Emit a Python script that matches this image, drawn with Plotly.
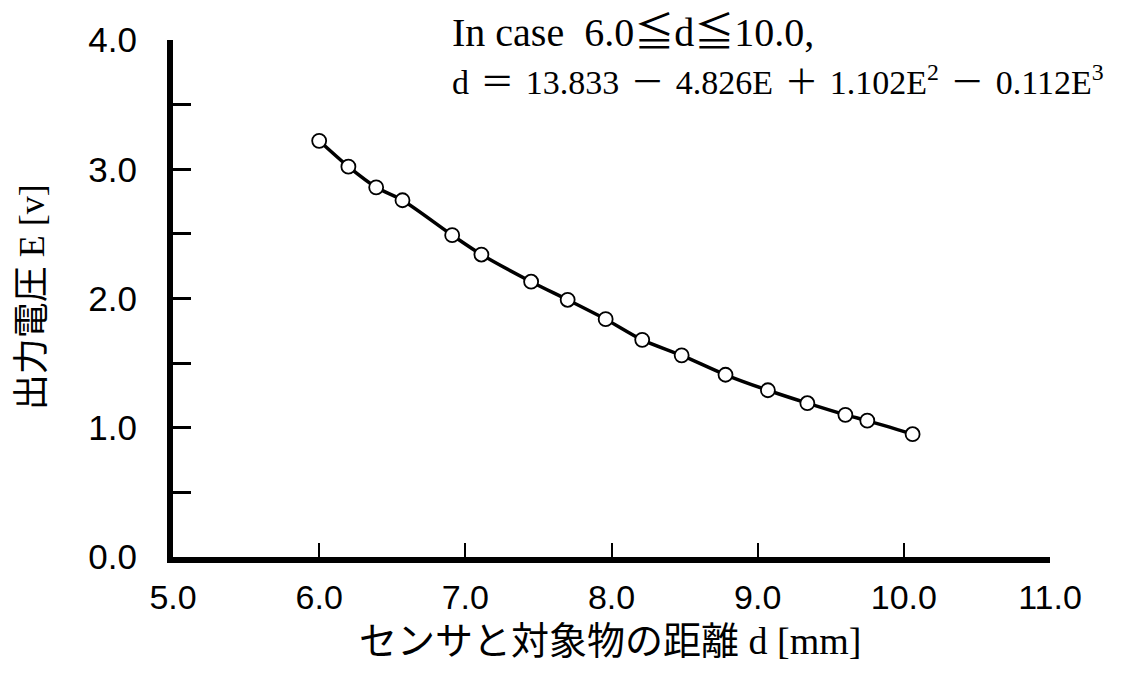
import plotly.graph_objects as go

# Data
distance_mm = [6.00, 6.20, 6.39, 6.57, 6.91, 7.11, 7.45, 7.70, 7.96, 8.21,
               8.48, 8.78, 9.07, 9.34, 9.60, 9.75, 10.06]
voltage_v = [3.22, 3.02, 2.86, 2.76, 2.49, 2.34, 2.13, 1.99, 1.84, 1.68,
             1.56, 1.41, 1.29, 1.19, 1.10, 1.055, 0.95]

x_ticks = [5, 6, 7, 8, 9, 10, 11]
x_tick_labels = ["5.0", "6.0", "7.0", "8.0", "9.0", "10.0", "11.0"]
y_ticks = [0, 0.5, 1, 1.5, 2, 2.5, 3, 3.5, 4]
y_tick_labels = ["0.0", "", "1.0", "", "2.0", "", "3.0", "", "4.0"]

S = "\u2004"
eq_line1 = "In case\u00a0\u00a06.0≦d≦10.0,"
eq_line2 = ("d" + S + "＝" + S + "13.833" + S + "－" + S + "4.826E" + S + "＋" + S
            + "1.102E<sup>2</sup>" + S + "－" + S + "0.112E<sup>3</sup>")
x_title = "センサと対象物の距離 d [mm]"
y_title = "出力電圧 E [v]"

serif = "Liberation Serif, Times New Roman, Noto Sans CJK JP"
sans = "Liberation Sans, Arial, sans-serif"

fig = go.Figure()
fig.add_trace(go.Scatter(
    x=distance_mm, y=voltage_v, mode="lines+markers",
    line=dict(color="black", width=3.5, shape="spline", smoothing=0.8),
    marker=dict(symbol="circle", size=14, color="white",
                line=dict(color="black", width=1.8)),
    showlegend=False, cliponaxis=False,
))

fig.update_layout(
    width=1123, height=673,
    margin=dict(l=165, r=81, t=27, b=124),
    paper_bgcolor="white", plot_bgcolor="white",
    xaxis=dict(range=[5, 11], tickvals=x_ticks, ticktext=x_tick_labels,
               showline=True, linecolor="black", linewidth=6,
               ticks="inside", ticklen=14, tickwidth=2, tickcolor="black",
               showgrid=False, zeroline=False,
               tickfont=dict(family=sans, size=34, color="black"),
               ticklabelstandoff=5),
    yaxis=dict(range=[0, 4], tickvals=y_ticks, ticktext=y_tick_labels,
               showline=True, linecolor="black", linewidth=6,
               ticks="inside", ticklen=18, tickwidth=3, tickcolor="black",
               showgrid=False, zeroline=False,
               tickfont=dict(family=sans, size=35, color="black"),
               ticklabelstandoff=23),
    annotations=[
        dict(text=eq_line1, x=0.316, y=1.0153, xref="paper", yref="paper",
             xanchor="left", yanchor="middle", showarrow=False,
             font=dict(family=serif, size=40, color="black")),
        dict(text=eq_line2, x=0.316, y=0.9226, xref="paper", yref="paper",
             xanchor="left", yanchor="middle", showarrow=False,
             font=dict(family=serif, size=34, color="black")),
        dict(text=x_title, x=0.498, y=-0.163, xref="paper", yref="paper",
             xanchor="center", yanchor="middle", showarrow=False,
             font=dict(family=serif, size=38, color="black")),
        dict(text=y_title, x=-0.160, y=0.502, xref="paper", yref="paper",
             xanchor="center", yanchor="middle", showarrow=False,
             textangle=-90,
             font=dict(family=serif, size=36, color="black")),
    ],
)

fig.write_html("out.html")
